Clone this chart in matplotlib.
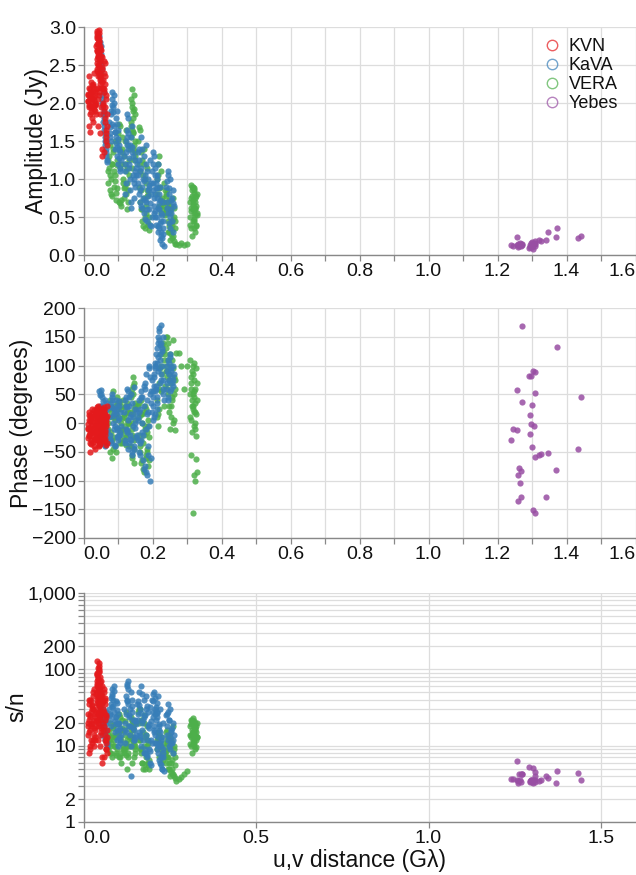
import matplotlib
matplotlib.use("Agg")
import matplotlib.pyplot as plt
from matplotlib.ticker import FixedLocator, NullFormatter
from matplotlib.lines import Line2D

plt.rcParams['font.family'] = ['Liberation Sans', 'DejaVu Sans']

# ---------------- data ----------------
arrays = ["KVN", "KaVA", "VERA", "Yebes"]
colors = {"KVN": "#e41a1c", "KaVA": "#377eb8", "VERA": "#4daf4a", "Yebes": "#984ea3"}

kvn_uv = [0.013,0.015,0.017,0.019,0.021,0.023,0.025,0.027,0.029,0.031,0.033,0.035,0.014,0.016,0.018,0.020,0.022,0.024,0.026,0.028,0.030,0.032,0.034,0.036,0.015,0.019,0.023,0.027,0.031,0.035,
          0.038,0.039,0.040,0.041,0.042,0.043,0.044,0.045,0.046,0.047,0.048,0.049,0.038,0.040,0.042,0.044,0.046,0.048,0.050,0.039,0.041,0.043,0.045,0.047,0.049,0.040,0.042,0.044,0.046,0.048,
          0.052,0.054,0.056,0.058,0.060,0.062,0.064,0.066,0.068,0.053,0.055,0.057,0.059,0.061,0.063,0.065,0.067,0.054,0.058,0.062,0.066,0.056,0.060,0.064,0.068,
          0.037,0.038,0.039,0.040,0.041,0.042,0.043,0.044,0.045,0.046,0.047,0.048,0.049,0.050,0.039,0.041,0.043,0.045,0.047,0.049,
          0.012,0.014,0.016,0.018,0.020,0.022,0.024,0.026,0.028,0.030,0.032,0.034,0.051,0.053,0.055,0.057,0.059,0.061,0.063,0.065]
kvn_amp = [2.10,1.95,2.20,2.05,1.88,2.15,2.00,2.25,1.92,2.08,1.98,2.18,2.02,2.35,1.85,2.12,1.96,2.06,1.80,2.22,2.04,1.90,2.14,1.99,1.70,1.62,2.28,1.75,2.40,1.86,
           2.95,2.85,2.70,2.60,2.90,2.50,2.80,2.40,2.65,2.75,2.55,2.30,2.88,2.45,2.20,2.92,2.10,2.35,1.95,2.78,2.62,2.05,2.50,1.85,2.25,2.68,1.70,2.82,2.15,1.60,
           2.70,2.45,2.20,2.55,1.90,2.35,1.65,2.10,1.45,2.60,1.30,2.00,2.40,1.75,2.25,1.50,1.85,1.40,2.15,1.95,1.60,2.30,1.35,2.05,1.70,
           2.75,2.58,2.92,2.42,2.68,2.84,2.36,2.62,2.96,2.48,2.72,2.56,2.40,2.20,2.52,2.78,2.66,2.86,2.34,2.70,
           2.02,2.12,1.98,2.18,2.08,1.94,2.24,2.05,2.16,1.96,2.10,2.00,2.62,2.28,2.48,1.98,2.18,1.80,2.52,1.55]
kvn_phase = [-10,5,-22,12,-30,-5,18,-15,2,-40,8,-25,-2,20,-35,-12,10,-18,25,-8,-28,15,-45,0,-20,-50,6,-33,22,-14,
             10,-15,25,-5,-30,0,15,-20,5,-35,20,-10,-25,28,-8,3,-40,12,-18,22,-12,-28,8,-3,18,-22,30,-38,0,14,
             20,-10,5,-30,28,-20,10,-5,-35,0,15,-25,22,-15,3,-38,12,-8,25,-28,8,-18,18,-2,30,
             -6,12,-24,4,20,-32,-14,8,26,-2,-20,16,-36,6,-12,24,-4,10,-26,2,
             -8,-26,14,-18,4,-36,-4,10,-22,-12,18,-30,8,-18,24,-6,-32,16,-12,4]
kvn_snr = [20,15,35,25,12,18,30,45,10,22,16,28,14,40,9,24,19,33,11,50,17,26,13,21,8,10,38,12,55,18,
           90,60,130,45,75,35,100,28,55,80,40,25,70,50,22,110,18,32,15,65,42,20,38,14,26,85,12,95,24,10,
           70,45,30,55,18,40,12,25,8,60,7,20,50,14,35,9,16,6,28,22,11,38,7,24,13,
           48,36,88,30,62,105,26,52,120,34,68,44,22,17,40,78,58,92,24,60,
           18,26,22,40,16,28,34,20,30,14,24,12,48,28,36,16,26,12,42,9]

kava_uv = [0.046,0.048,0.050,0.052,0.054,0.056,0.058,0.060,0.062,0.064,0.066,0.068,0.047,0.049,0.051,0.053,0.055,0.057,0.059,0.061,0.063,0.065,0.067,0.050,0.058,
           0.075,0.077,0.079,0.081,0.083,0.085,0.087,0.089,0.091,0.093,0.095,0.097,0.099,0.101,0.103,0.105,0.107,0.109,0.078,0.082,0.086,0.090,0.094,0.098,0.102,0.106,0.084,0.096,
           0.118,0.120,0.122,0.124,0.126,0.128,0.130,0.132,0.134,0.136,0.138,0.140,0.142,0.144,0.146,0.148,0.150,0.152,0.121,0.125,0.129,0.133,0.137,0.141,0.145,0.149,0.127,0.139,
           0.156,0.158,0.160,0.162,0.164,0.166,0.168,0.170,0.172,0.174,0.176,0.178,0.180,0.182,0.184,0.186,0.188,0.190,0.192,0.194,0.196,0.198,0.159,0.163,0.167,0.171,0.175,0.179,0.183,0.187,0.191,0.195,
           0.199,0.201,0.203,0.205,0.207,0.209,0.211,0.213,0.215,0.217,0.219,0.221,0.223,0.225,0.227,0.229,0.231,0.200,0.204,0.208,0.212,0.216,0.220,0.224,0.228,0.232,0.206,0.214,0.222,0.230,
           0.240,0.242,0.244,0.246,0.248,0.250,0.252,0.254,0.256,0.258,0.260,0.262,0.245,0.251,0.257,
           0.047,0.049,0.051,0.053,0.055,0.057,0.059,0.061,0.063,0.065,0.076,0.080,0.084,0.088,0.092,0.096,0.100,0.104,
           0.119,0.123,0.127,0.131,0.135,0.143,0.147,0.151,0.157,0.161,0.165,0.169,0.173,0.177,0.181,0.185,0.189,0.193,0.197,
           0.200,0.202,0.204,0.206,0.208,0.210,0.212,0.214,0.216,0.218,0.220,0.222,0.224,0.226,0.228,0.230,0.241,0.243,0.247,0.249,0.253,0.255,0.259]
kava_amp = [2.88,2.70,2.50,2.30,2.10,1.95,1.80,1.65,1.50,1.40,1.30,1.22,2.80,2.60,2.40,2.20,2.00,1.85,1.70,1.55,1.45,1.35,1.25,2.65,1.90,
            1.75,1.60,1.50,1.85,2.05,1.95,2.10,1.70,1.40,1.55,1.80,1.30,1.65,1.20,1.45,1.10,1.35,1.25,1.68,1.98,1.88,1.62,1.48,1.72,1.38,1.15,2.15,1.90,
            1.30,1.10,0.95,1.50,1.65,1.40,1.80,1.20,1.00,0.85,1.55,1.35,1.70,1.05,0.75,1.25,0.90,1.15,0.80,1.45,1.60,1.28,0.70,1.42,0.95,1.10,1.85,0.62,
            1.20,0.95,1.40,0.80,1.10,0.65,1.55,0.90,0.75,1.30,0.55,1.05,0.70,1.45,0.45,0.85,1.00,0.60,1.25,0.40,0.95,0.50,1.35,0.70,1.15,0.62,0.98,0.48,1.10,0.78,0.88,0.38,
            1.10,0.85,0.65,1.30,0.50,0.95,0.40,0.75,1.20,0.30,0.60,0.20,0.90,0.45,0.15,0.70,0.35,1.35,0.55,0.80,1.05,0.38,0.68,0.25,0.52,0.12,1.15,0.88,0.42,0.28,
            0.90,0.70,1.10,0.55,0.80,0.35,1.00,0.60,0.45,0.85,0.30,0.65,1.05,0.50,0.75,
            2.55,2.35,2.75,2.05,2.45,1.75,2.15,1.60,1.85,1.50,1.55,1.90,1.72,2.00,1.62,1.42,1.52,1.28,
            1.20,1.35,1.55,1.15,1.45,1.30,1.00,1.05,1.05,1.25,0.85,1.40,1.00,0.72,1.20,0.60,0.92,0.68,0.80,
            0.95,1.20,0.75,1.05,0.58,0.88,0.50,1.00,0.62,0.80,0.35,0.72,0.30,0.55,0.22,0.45,0.98,0.62,0.88,0.42,0.72,0.55,0.68]
kava_phase = [55,-35,30,-10,45,0,-25,20,-40,10,35,-15,5,48,-20,25,-30,15,-5,40,-38,22,-12,57,8,
              10,-20,35,-35,50,0,25,-10,-40,15,40,-25,5,-30,30,-15,20,-5,-28,45,12,-38,22,-8,38,-20,28,-12,
              20,-30,45,-10,60,5,-45,30,-20,10,50,-55,35,-5,-40,25,0,-25,40,-15,55,-35,15,-50,62,-8,28,-30,
              -20,10,40,-50,25,-30,55,0,-65,30,-80,60,-10,85,-90,20,-40,95,-100,50,-60,75,5,-35,45,-15,65,-75,15,-55,100,35,
              20,45,80,10,100,60,120,35,140,90,160,110,70,170,130,50,150,5,65,95,25,115,145,85,125,40,55,105,135,75,
              60,90,45,110,75,120,55,95,80,100,65,85,40,115,70,
              30,-22,50,12,-8,38,-34,22,2,-28,28,-32,40,18,-6,30,-22,8,
              -35,30,-12,45,-28,10,-45,20,-30,20,-55,45,-20,70,-85,40,-5,80,55,
              30,55,85,15,105,65,130,45,150,95,165,120,75,140,100,60,70,100,85,105,60,90,75]
kava_snr = [55,40,30,22,18,25,15,20,12,28,16,11,45,35,26,20,14,30,17,13,24,19,10,50,21,
            30,22,18,35,48,40,60,28,15,24,38,12,26,10,20,11,17,14,25,45,33,21,19,29,16,12,55,36,
            30,20,15,45,60,35,70,25,18,14,50,28,40,17,12,22,13,19,11,38,55,24,10,33,16,21,65,4,
            35,22,50,15,30,10,60,20,12,40,8,25,14,45,7,18,28,9,32,6,21,11,38,13,27,16,24,8,33,12,19,5.5,
            40,28,18,50,14,32,11,24,45,8,16,6,30,12,5,20,9,48,15,26,36,10,19,7,13,4.6,42,27,11,7,
            25,18,35,12,22,9,30,15,11,20,8,14,28,13,17,
            42,32,48,24,36,18,28,15,22,13,26,42,32,52,24,16,20,13,
            16,26,40,18,30,22,12,14,26,34,14,48,22,9,30,7.5,17,8.5,12,
            24,38,16,30,11,22,9,28,13,18,6.5,15,5.5,10,5,8,26,14,22,10,16,11,12]

vera_uv = [0.070,0.072,0.074,0.076,0.078,0.080,0.082,0.084,0.086,0.088,0.090,0.092,0.094,0.096,0.098,0.073,0.079,0.085,0.091,0.097,
           0.100,0.102,0.104,0.106,0.108,0.110,0.112,0.114,0.116,0.118,0.120,0.122,0.124,0.126,0.128,0.130,0.132,0.103,0.107,0.111,0.115,0.119,0.123,0.127,0.131,
           0.136,0.138,0.140,0.142,0.144,0.146,0.148,0.150,0.137,0.139,0.141,0.143,0.145,0.147,0.149,0.140,0.144,0.148,
           0.158,0.160,0.162,0.164,0.166,0.168,0.170,0.172,0.174,0.176,0.178,0.180,0.182,0.184,0.186,0.188,0.190,0.161,0.165,0.169,0.173,0.177,0.181,0.185,0.189,
           0.212,0.214,0.216,0.218,0.220,0.222,0.224,0.226,0.228,0.230,0.232,0.234,0.236,0.238,0.240,0.242,0.217,0.227,
           0.240,0.242,0.244,0.246,0.248,0.250,0.252,0.254,0.256,0.258,0.260,0.262,0.264,0.266,0.243,0.247,0.251,0.255,0.259,0.263,0.249,0.257,
           0.268,0.276,0.284,0.292,0.300,
           0.308,0.310,0.312,0.314,0.316,0.318,0.320,0.322,0.324,0.326,0.328,0.330,0.309,0.311,0.313,0.315,0.317,0.319,0.321,0.323,0.325,0.327,0.329,0.316,0.320,
           0.139,0.141,0.143,0.145,0.147,0.313,0.315,0.317,0.319,0.321,0.323,0.325,0.314,0.318,0.322,0.312,0.320,0.324,
           0.071,0.077,0.083,0.089,0.095,0.101,0.105,0.109,0.113,0.117,0.121,0.125,0.129,0.163,0.167,0.171,0.175,0.179,0.183,0.187,
           0.237,0.241,0.245,0.249,0.253,0.257,0.261,0.265,0.219,0.225,0.231,0.239]
vera_amp = [1.10,0.95,1.30,0.85,1.45,1.00,1.20,0.78,1.35,0.90,1.50,1.05,0.72,1.25,0.88,1.15,0.80,1.40,0.98,1.18,
            1.60,1.40,0.70,1.70,1.20,0.65,1.55,1.00,0.75,1.30,0.90,1.65,1.10,0.60,1.45,0.85,1.25,1.73,0.68,1.35,0.95,1.50,0.80,1.15,1.05,
            1.40,1.70,1.95,2.18,1.60,1.25,1.85,1.35,1.55,2.05,1.15,1.80,1.45,2.10,1.30,1.65,1.90,1.50,
            1.50,1.20,0.90,1.65,0.60,1.35,0.45,1.05,0.75,1.40,0.35,0.95,0.55,1.15,0.40,0.80,0.50,1.68,0.70,1.25,0.38,1.00,0.65,0.85,0.33,
            1.00,0.80,1.20,0.65,1.30,0.90,0.55,1.10,0.75,0.60,0.95,0.70,0.85,0.58,0.78,0.62,1.05,0.68,
            0.80,0.60,0.45,0.70,0.30,0.55,0.20,0.65,0.40,0.75,0.25,0.50,0.35,0.15,0.85,0.38,0.62,0.28,0.48,0.18,0.72,0.33,
            0.14,0.13,0.16,0.13,0.15,
            0.50,0.70,0.35,0.85,0.60,0.90,0.45,0.75,0.30,0.65,0.55,0.80,0.40,0.92,0.58,0.25,0.72,0.48,0.88,0.62,0.38,0.78,0.52,0.68,0.82,
            1.75,2.00,1.62,1.92,1.38,0.62,0.78,0.45,0.85,0.55,0.70,0.40,0.90,0.65,0.52,0.75,0.35,0.60,
            1.25,1.05,1.20,1.10,0.82,1.50,1.15,0.72,1.40,0.88,1.20,0.95,0.70,1.10,0.85,0.60,1.20,0.50,0.78,0.42,
            0.52,0.68,0.30,0.58,0.42,0.22,0.62,0.45,0.88,0.72,0.65,0.55]
vera_phase = [0,-30,25,-50,40,-15,10,-60,55,-25,30,-40,15,-8,45,-20,20,-45,5,35,
              10,-20,35,-35,0,25,-10,40,-30,15,-5,30,-25,5,-15,20,-40,38,-28,8,-12,28,-38,18,-2,
              20,-40,60,-10,80,-70,35,-25,45,0,-55,15,70,-30,30,-60,50,5,
              30,-20,10,-50,40,-70,0,-35,20,-85,-10,-60,25,-45,5,-75,-25,35,-30,15,-80,-5,-55,-15,-65,
              10,40,-5,70,25,95,55,120,85,140,30,110,65,150,100,80,15,135,
              130,90,50,110,20,70,-10,100,40,145,0,80,60,-12,150,30,120,10,95,5,75,45,
              122,121,100,60,99,
              50,10,80,-15,30,100,-5,60,20,-22,40,70,110,5,-55,90,25,-90,55,-100,15,-63,-86,-157,45,
              50,-20,65,-45,25,60,40,85,20,75,-10,95,30,50,0,70,105,35,
              -10,30,-30,10,-50,25,-15,30,-35,10,-20,35,0,-40,15,-65,-20,30,-50,-5,
              120,60,140,85,30,110,50,75,60,100,125,90]
vera_snr = [12,9,16,8,20,11,14,7,18,10,19,13,7.5,15,9,12,8,17,10,14,
            20,15,7,24,12,6,22,10,8,16,9,28,11,5,18,8,13,26,7,17,9,21,7.5,12,10,
            14,10,18,22,12,7,20,9,13,24,6,16,11,19,8,12,17,10,
            28,20,12,30,8,22,6,15,10,25,5,14,7,18,5.5,11,6.5,30,9,21,5,13,8,12,5,
            12,9,15,7,14,10,6,13,8,6.5,11,7.5,9.5,6,8.5,7,12.5,7,
            15,11,7,13,5,10,4,12,6.5,18,4.2,9,5.5,3.8,16,6,11,4.5,8,4,14,5,
            3.4,3.7,3.9,4.2,4.6,
            14,18,10,21,12,23,11,17,9,15,13,20,10.5,22,14,8,19,12,21,16,9.5,18,13,15,20,
            16,21,13,19,10,13,16,11,18,14,20,12,22,15,17,19,10,14,
            14,10,13,12,8,19,13,8,16,9,14,10,7,12,9,6,20,5.8,10,6,
            8,12,5,9,6,4.3,10,7,11,9,8,7]

yebes_uv = [1.271,1.373,1.302,1.309,1.292,1.296,1.257,1.308,1.442,1.270,1.299,1.294,1.297,1.306,1.246,1.257,1.293,
            1.239,1.301,1.434,1.346,1.326,1.321,1.309,1.262,1.269,1.371,1.258,1.266,1.269,1.340,1.260,1.303,1.309]
yebes_amp = [0.14,0.36,0.15,0.16,0.09,0.12,0.24,0.18,0.25,0.13,0.11,0.13,0.16,0.14,0.12,0.13,0.10,
             0.13,0.17,0.22,0.30,0.19,0.20,0.15,0.12,0.15,0.24,0.11,0.16,0.12,0.20,0.14,0.08,0.12]
yebes_phase = [168,133,90,89,82,82,57,52,45,36,32,14,-1,-5,-10,-12,-19,
               -30,-42,-46,-52,-54,-56,-59,-79,-84,-82,-91,-104,-129,-129,-136,-152,-156]
yebes_snr = [4.3,4.6,5.1,4.0,5.3,3.5,6.3,4.5,3.6,4.2,3.3,3.4,3.6,3.5,3.7,3.6,3.3,
             3.7,3.5,4.4,3.8,3.6,3.4,3.5,4.3,4.2,3.2,3.2,3.6,3.3,4.0,3.4,3.2,3.3]

series = {
    "VERA": (vera_uv, vera_amp, vera_phase, vera_snr),
    "KaVA": (kava_uv, kava_amp, kava_phase, kava_snr),
    "KVN": (kvn_uv, kvn_amp, kvn_phase, kvn_snr),
    "Yebes": (yebes_uv, yebes_amp, yebes_phase, yebes_snr),
}

# ---------------- layout ----------------
W, H = 636, 875
fig = plt.figure(figsize=(W / 100, H / 100), dpi=100)

def rect(x0, y_top, x1, y_bot):
    return [x0 / W, 1 - y_bot / H, (x1 - x0) / W, (y_bot - y_top) / H]

ax_amp = fig.add_axes(rect(83.5, 27, 635.5, 255))
ax_ph = fig.add_axes(rect(83.5, 308, 635.5, 538))
ax_sn = fig.add_axes(rect(83.5, 593, 635.5, 822))

GRID = "#dddddd"
AXC = "#888888"
TXT = "#111111"
TICK_FS = 14

for ax in (ax_amp, ax_ph, ax_sn):
    for sp in ("top", "right"):
        ax.spines[sp].set_visible(False)
    for sp in ("left", "bottom"):
        ax.spines[sp].set_color(AXC)
        ax.spines[sp].set_linewidth(1.0)
    ax.tick_params(which="both", direction="out", length=4, width=0.9, color=AXC,
                   labelsize=TICK_FS, labelcolor=TXT, pad=1.5)
    ax.grid(True, which="both", color=GRID, linewidth=0.9)
    ax.set_axisbelow(True)
    ax.set_xlim(0, 1.6)

for name, (uv, amp, ph, sn) in series.items():
    c = colors[name]
    kw = dict(s=20, color=c, alpha=0.85, linewidths=0, zorder=3)
    ax_amp.scatter(uv, amp, **kw)
    ax_ph.scatter(uv, ph, **kw)
    ax_sn.scatter(uv, sn, **kw)

# amplitude axis
ax_amp.set_ylim(0, 3.0)
ax_amp.yaxis.set_major_locator(FixedLocator([0, 0.5, 1.0, 1.5, 2.0, 2.5, 3.0]))
ax_amp.set_yticklabels(["0.0", "0.5", "1.0", "1.5", "2.0", "2.5", "3.0"])

# phase axis
ax_ph.set_ylim(-200, 200)
ph_ticks = [-200, -150, -100, -50, 0, 50, 100, 150, 200]
ax_ph.yaxis.set_major_locator(FixedLocator(ph_ticks))
ax_ph.set_yticklabels([str(v).replace("-", "\u2212") for v in ph_ticks])

# x axes of top two panels
xmaj = [0.0, 0.2, 0.4, 0.6, 0.8, 1.0, 1.2, 1.4, 1.6]
xmin = [0.1, 0.3, 0.5, 0.7, 0.9, 1.1, 1.3, 1.5]
for ax in (ax_amp, ax_ph):
    ax.xaxis.set_major_locator(FixedLocator(xmaj))
    ax.xaxis.set_minor_locator(FixedLocator(xmin))
    ax.set_xticklabels(["%.1f" % v for v in xmaj])
    ticks = ax.xaxis.get_major_ticks()
    ticks[0].label1.set_horizontalalignment("left")
    ticks[-1].label1.set_horizontalalignment("right")

# s/n axis (log)
ax_sn.set_yscale("log")
ax_sn.set_ylim(1, 1000)
sn_major = [1, 2, 10, 20, 100, 200, 1000]
sn_minor = [3, 4, 5, 6, 7, 8, 9, 30, 40, 50, 60, 70, 80, 90, 300, 400, 500, 600, 700, 800, 900]
ax_sn.yaxis.set_major_locator(FixedLocator(sn_major))
ax_sn.yaxis.set_minor_locator(FixedLocator(sn_minor))
ax_sn.yaxis.set_minor_formatter(NullFormatter())
ax_sn.set_yticklabels(["1", "2", "10", "20", "100", "200", "1,000"])
ax_sn.xaxis.set_major_locator(FixedLocator([0.0, 0.5, 1.0, 1.5]))
ax_sn.set_xticklabels(["0.0", "0.5", "1.0", "1.5"])
ax_sn.xaxis.get_major_ticks()[0].label1.set_horizontalalignment("left")

# axis titles
TITLE_FS = 16.5
fig.text(37 / W, 1 - 141 / H, "Amplitude (Jy)", rotation=90, ha="center", va="center",
         fontsize=TITLE_FS, color=TXT)
fig.text(22 / W, 1 - 423 / H, "Phase (degrees)", rotation=90, ha="center", va="center",
         fontsize=TITLE_FS, color=TXT)
fig.text(17 / W, 1 - 707 / H, "s/n", rotation=90, ha="center", va="center",
         fontsize=TITLE_FS, color=TXT)
fig.text(359.5 / W, 1 - 860 / H, "u,v distance (G\u03bb)", ha="center", va="center",
         fontsize=TITLE_FS, color=TXT)

# legend
handles = [Line2D([], [], linestyle="none", marker="o", markersize=7.5, markerfacecolor="none",
                  markeredgecolor=colors[n], markeredgewidth=1.0, alpha=0.7) for n in arrays]
leg = ax_amp.legend(handles, arrays, loc="upper left", bbox_to_anchor=((545 - 83.5) / 552, 1 - (38 - 27) / 228),
                    frameon=False, fontsize=13, handlelength=0.8, handletextpad=0.5,
                    labelspacing=0.12, borderaxespad=0, borderpad=0)
for t in leg.get_texts():
    t.set_color(TXT)

fig.savefig("out.png", dpi=100)
